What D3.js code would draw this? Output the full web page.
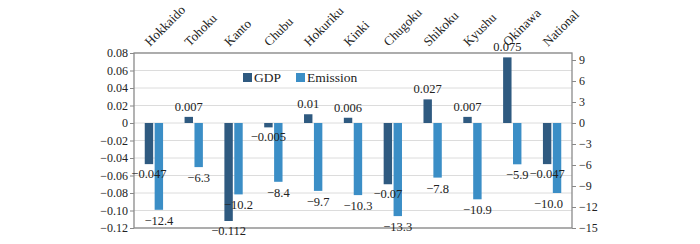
<!DOCTYPE html>
<html><head><meta charset="utf-8">
<script src="https://cdn.jsdelivr.net/npm/d3@7"></script>
<style>body{margin:0;background:#fff}svg{display:block}</style>
</head><body><svg id="c" width="700" height="244"></svg>
<script>
const categories = ["Hokkaido","Tohoku","Kanto","Chubu","Hokuriku","Kinki","Chugoku","Shikoku","Kyushu","Okinawa","National"];
const gdp = [-0.047, 0.007, -0.112, -0.005, 0.01, 0.006, -0.07, 0.027, 0.007, 0.075, -0.047];
const emission = [-12.4, -6.3, -10.2, -8.4, -9.7, -10.3, -13.3, -7.8, -10.9, -5.9, -10.0];
const leftTicks = [0.08,0.06,0.04,0.02,0,-0.02,-0.04,-0.06,-0.08,-0.10,-0.12];
const rightTicks = [9,6,3,0,-3,-6,-9,-12,-15];
const series = ["GDP","Emission"];
const colors = {GDP:"#2f5a80", Emission:"#3b8ec6"};
const FF = "Liberation Serif";

const svg = d3.select("#c");
const L=134, R=572, T=53, B=228;
const x0 = d3.scaleBand().domain(categories).range([L,R]);
const x1 = d3.scaleBand().domain(series).range([x0.bandwidth()*0.27, x0.bandwidth()*0.73]).paddingInner(0.15);
const yL = d3.scaleLinear().domain([-0.12,0.08]).range([B,T]);
const yR = d3.scaleLinear().domain([-15,10]).range([B,T]);
const minus = s => s.replace("-","\u2212");

// gridlines
svg.append("g").selectAll("line").data(leftTicks).join("line")
  .attr("x1",L).attr("x2",R).attr("y1",d=>yL(d)).attr("y2",d=>yL(d))
  .attr("stroke","#dcdcdc").attr("stroke-width",1);

// left axis
const la = svg.append("g").attr("transform",`translate(${L},0)`)
  .call(d3.axisLeft(yL).tickValues(leftTicks).tickSize(4).tickPadding(2)
    .tickFormat(v=> Math.abs(v)<1e-9 ? "0" : minus(d3.format(".2f")(v))));
la.attr("font-family",FF).attr("font-size",12);
la.select(".domain").remove();
la.selectAll("line").attr("stroke","#888");
la.selectAll("text").attr("fill","#222");

const ra = svg.append("g").attr("transform",`translate(${R},0)`)
  .call(d3.axisRight(yR).tickValues(rightTicks).tickSize(4).tickPadding(3));
ra.attr("font-family",FF).attr("font-size",12);
ra.select(".domain").remove();
ra.selectAll("line").attr("stroke","#888");
ra.selectAll("text").attr("fill","#222");

// frame
svg.append("rect").attr("x",L).attr("y",T).attr("width",R-L).attr("height",B-T)
  .attr("fill","none").attr("stroke","#8a8a8a").attr("stroke-width",1.3);

// bars
const g = svg.append("g").attr("font-family",FF).attr("font-size",12.5).attr("fill","#222");
categories.forEach((c,i)=>{
  const bx = x0(c);
  const gv = gdp[i], ev = emission[i];
  g.append("rect").attr("x",bx+x1("GDP")).attr("width",x1.bandwidth())
    .attr("y",yL(Math.max(0,gv))).attr("height",Math.abs(yL(gv)-yL(0)))
    .attr("fill",colors.GDP);
  g.append("rect").attr("x",bx+x1("Emission")).attr("width",x1.bandwidth())
    .attr("y",yR(Math.max(0,ev))).attr("height",Math.abs(yR(ev)-yR(0)))
    .attr("fill",colors.Emission);
  g.append("text").attr("x",bx+x1("GDP")+x1.bandwidth()/2)
    .attr("y", gv>=0 ? yL(gv)-6 : yL(gv)+14)
    .attr("text-anchor","middle")
    .text(minus(String(gv)));
  const et = g.append("text").attr("x",bx+x1("Emission")+x1.bandwidth()/2)
    .attr("y", yR(ev)+15)
    .attr("text-anchor","middle")
    .text(minus(d3.format(".1f")(ev)));
  // keep label inside the plot frame
  const w = et.node().getComputedTextLength();
  const cx = +et.attr("x");
  if (cx + w/2 > R - 9) et.attr("x", R - 9 - w/2);
});

// category labels
svg.append("g").attr("font-family",FF).attr("font-size",13).attr("fill","#222")
  .selectAll("text").data(categories).join("text")
  .attr("transform",d=>`translate(${x0(d)+x0.bandwidth()/2-4},47) rotate(-45)`)
  .attr("text-anchor","start").text(d=>d);

// legend
const leg = [{k:"GDP",x:243},{k:"Emission",x:296}];
const lg = svg.append("g").attr("font-family",FF).attr("font-size",13.5).attr("fill","#222");
leg.forEach(l=>{
  lg.append("rect").attr("x",l.x).attr("y",73).attr("width",9).attr("height",9).attr("fill",colors[l.k]);
  lg.append("text").attr("x",l.x+11).attr("y",82).text(l.k);
});
</script></body></html>
